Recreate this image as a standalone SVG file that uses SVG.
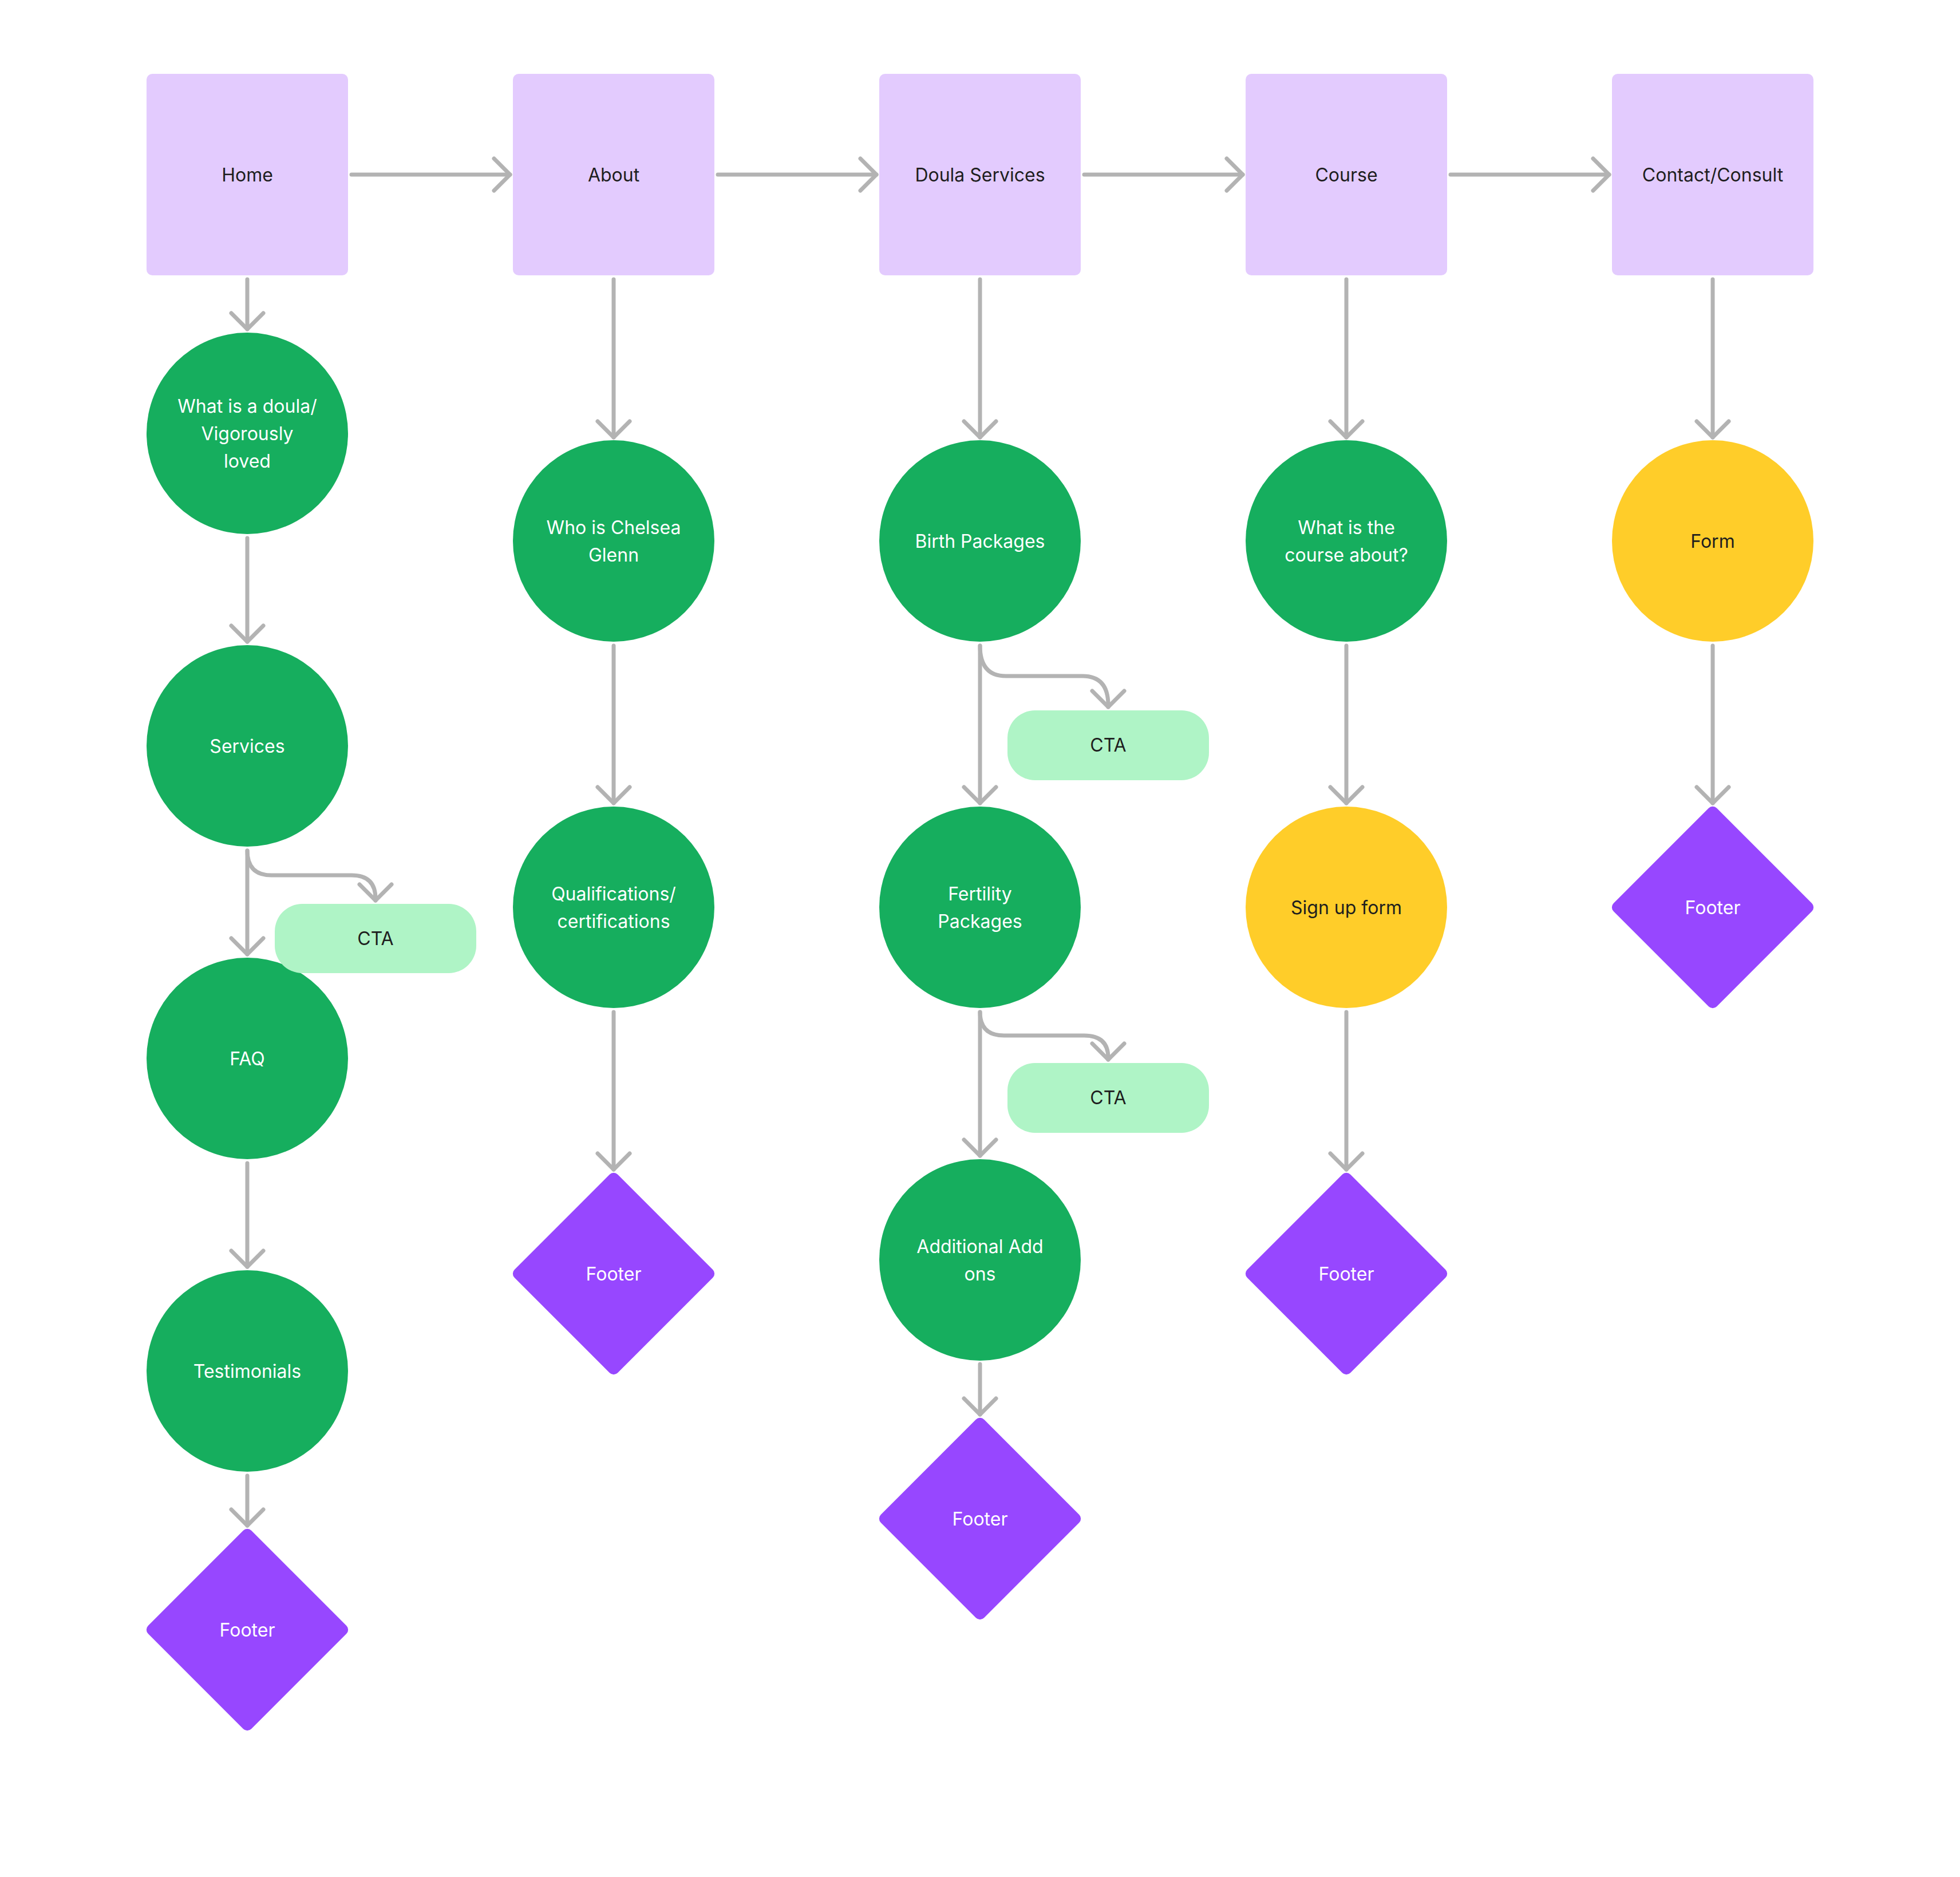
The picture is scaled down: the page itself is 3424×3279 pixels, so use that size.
<svg xmlns="http://www.w3.org/2000/svg" width="3424" height="3279" viewBox="0 0 3424 3279">
<defs>
<style>
.page{fill:#E3CBFE}
.sec{fill:#16AE5E}
.form{fill:#FFCD29}
.foot{fill:#9747FF}
.cta{fill:#AFF4C6}
.dk{font-family:Inter,"Noto Sans","Liberation Sans",sans-serif;font-size:32px;fill:#1E1E1E;text-anchor:middle}
.wt{font-family:Inter,"Noto Sans","Liberation Sans",sans-serif;font-size:32px;fill:#FFFFFF;text-anchor:middle}
.ln{fill:none;stroke:#B3B3B3;stroke-width:7;stroke-linecap:round;stroke-linejoin:round}
</style>
<marker id="ah" markerUnits="userSpaceOnUse" markerWidth="80" markerHeight="80" viewBox="-40 -40 80 80" refX="0" refY="0" orient="auto" overflow="visible">
<path d="M-28,-28 L0,0 L-28,28" fill="none" stroke="#B3B3B3" stroke-width="7" stroke-linecap="round" stroke-linejoin="round"/>
</marker>
</defs>
<rect width="3424" height="3279" fill="#FFFFFF"/>

<g id="connectors" class="ln" marker-end="url(#ah)">
<path d="M614,305 L891,305"/>
<path d="M1254,305 L1531,305"/>
<path d="M1894,305 L2171,305"/>
<path d="M2534,305 L2811,305"/>
<path d="M432,488 L432,575"/>
<path d="M432,940 L432,1121"/>
<path d="M432,1486 L432,1667"/>
<path d="M432,1486 Q432,1529 474,1529 L614,1529 Q656,1529 656,1570 L656,1573"/>
<path d="M432,2032 L432,2213"/>
<path d="M432,2578 L432,2665"/>
<path d="M1072,488 L1072,764"/>
<path d="M1072,1128 L1072,1403"/>
<path d="M1072,1768 L1072,2043"/>
<path d="M1712,488 L1712,764"/>
<path d="M1712,1128 L1712,1403"/>
<path d="M1712,1128 Q1712,1181 1757,1181 L1891,1181 Q1936,1181 1936,1232 L1936,1235"/>
<path d="M1712,1768 L1712,2019"/>
<path d="M1712,1768 Q1712,1809 1754,1809 L1894,1809 Q1936,1809 1936,1848 L1936,1851"/>
<path d="M1712,2383 L1712,2471"/>
<path d="M2352,488 L2352,764"/>
<path d="M2352,1128 L2352,1403"/>
<path d="M2352,1768 L2352,2043"/>
<path d="M2992,488 L2992,764"/>
<path d="M2992,1128 L2992,1403"/>
</g>

<g id="home"><rect class="page" x="256" y="129" width="352" height="352" rx="10"/><text class="dk" x="432" y="317">Home</text></g>
<g id="about"><rect class="page" x="896" y="129" width="352" height="352" rx="10"/><text class="dk" x="1072" y="317">About</text></g>
<g id="doula-services"><rect class="page" x="1536" y="129" width="352" height="352" rx="10"/><text class="dk" x="1712" y="317">Doula Services</text></g>
<g id="course"><rect class="page" x="2176" y="129" width="352" height="352" rx="10"/><text class="dk" x="2352" y="317">Course</text></g>
<g id="contact"><rect class="page" x="2816" y="129" width="352" height="352" rx="10"/><text class="dk" x="2992" y="317">Contact/Consult</text></g>

<g id="what-is-doula"><circle class="sec" cx="432" cy="757" r="176"/><text class="wt" x="432" y="721">What is a doula/</text><text class="wt" x="432" y="769">Vigorously</text><text class="wt" x="432" y="817">loved</text></g>
<g id="services"><circle class="sec" cx="432" cy="1303" r="176"/><text class="wt" x="432" y="1315">Services</text></g>
<g id="faq"><circle class="sec" cx="432" cy="1849" r="176"/><text class="wt" x="432" y="1861">FAQ</text></g>
<g id="cta-home"><rect class="cta" x="480" y="1579" width="352" height="121" rx="48"/><text class="dk" x="656" y="1651">CTA</text></g>
<g id="testimonials"><circle class="sec" cx="432" cy="2395" r="176"/><text class="wt" x="432" y="2407">Testimonials</text></g>
<g id="footer-home"><rect class="foot" x="304.5" y="2719.5" width="255" height="255" rx="10" transform="rotate(45 432 2847)"/><text class="wt" x="432" y="2859">Footer</text></g>

<g id="who-is-chelsea"><circle class="sec" cx="1072" cy="945" r="176"/><text class="wt" x="1072" y="933">Who is Chelsea</text><text class="wt" x="1072" y="981">Glenn</text></g>
<g id="qualifications"><circle class="sec" cx="1072" cy="1585" r="176"/><text class="wt" x="1072" y="1573">Qualifications/</text><text class="wt" x="1072" y="1621">certifications</text></g>
<g id="footer-about"><rect class="foot" x="944.5" y="2097.5" width="255" height="255" rx="10" transform="rotate(45 1072 2225)"/><text class="wt" x="1072" y="2237">Footer</text></g>

<g id="birth-packages"><circle class="sec" cx="1712" cy="945" r="176"/><text class="wt" x="1712" y="957">Birth Packages</text></g>
<g id="cta-birth"><rect class="cta" x="1760" y="1241" width="352" height="122" rx="48"/><text class="dk" x="1936" y="1313">CTA</text></g>
<g id="fertility-packages"><circle class="sec" cx="1712" cy="1585" r="176"/><text class="wt" x="1712" y="1573">Fertility</text><text class="wt" x="1712" y="1621">Packages</text></g>
<g id="cta-fertility"><rect class="cta" x="1760" y="1857" width="352" height="122" rx="48"/><text class="dk" x="1936" y="1929">CTA</text></g>
<g id="additional-add-ons"><circle class="sec" cx="1712" cy="2201" r="176"/><text class="wt" x="1712" y="2189">Additional Add</text><text class="wt" x="1712" y="2237">ons</text></g>
<g id="footer-doula"><rect class="foot" x="1584.5" y="2525.5" width="255" height="255" rx="10" transform="rotate(45 1712 2653)"/><text class="wt" x="1712" y="2665">Footer</text></g>

<g id="what-is-course"><circle class="sec" cx="2352" cy="945" r="176"/><text class="wt" x="2352" y="933">What is the</text><text class="wt" x="2352" y="981">course about?</text></g>
<g id="sign-up-form"><circle class="form" cx="2352" cy="1585" r="176"/><text class="dk" x="2352" y="1597">Sign up form</text></g>
<g id="footer-course"><rect class="foot" x="2224.5" y="2097.5" width="255" height="255" rx="10" transform="rotate(45 2352 2225)"/><text class="wt" x="2352" y="2237">Footer</text></g>

<g id="form"><circle class="form" cx="2992" cy="945" r="176"/><text class="dk" x="2992" y="957">Form</text></g>
<g id="footer-contact"><rect class="foot" x="2864.5" y="1457.5" width="255" height="255" rx="10" transform="rotate(45 2992 1585)"/><text class="wt" x="2992" y="1597">Footer</text></g>
</svg>
